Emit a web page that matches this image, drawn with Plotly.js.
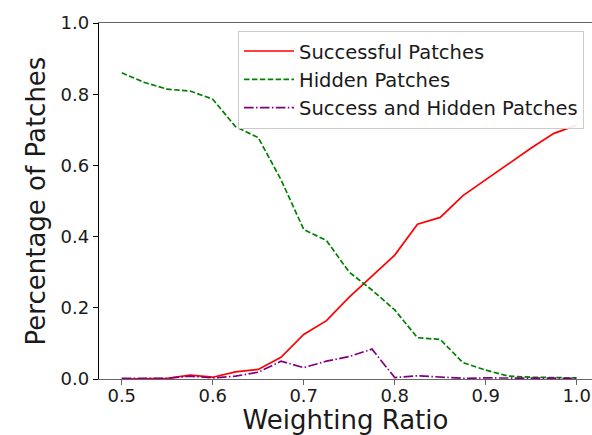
<!DOCTYPE html>
<html>
<head>
<meta charset="utf-8">
<script src="https://cdn.plot.ly/plotly-3.0.1.min.js"></script>
<style>html,body{margin:0;padding:0;background:#fff;}#chart{width:592px;height:435px;}</style>
</head>
<body>
<div id="chart"></div>
<script>
const ratios = [0.5, 0.525, 0.55, 0.575, 0.6, 0.625, 0.65, 0.675, 0.7, 0.725, 0.75, 0.775, 0.8, 0.825, 0.85, 0.875, 0.9, 0.925, 0.95, 0.975, 1.0];
const successful = [0.0, 0.0, 0.002, 0.011, 0.005, 0.02, 0.027, 0.061, 0.125, 0.164, 0.23, 0.289, 0.348, 0.435, 0.454, 0.515, 0.56, 0.605, 0.649, 0.69, 0.713];
const hidden = [0.86, 0.833, 0.814, 0.809, 0.786, 0.709, 0.678, 0.56, 0.42, 0.389, 0.30, 0.25, 0.194, 0.116, 0.111, 0.046, 0.025, 0.008, 0.005, 0.005, 0.003];
const both = [0.002, 0.002, 0.002, 0.008, 0.003, 0.008, 0.019, 0.05, 0.032, 0.05, 0.063, 0.084, 0.004, 0.009, 0.005, 0.002, 0.003, 0.003, 0.002, 0.002, 0.002];
const names = ["Successful Patches", "Hidden Patches", "Success and Hidden Patches"];
const yTicks = [0.0, 0.2, 0.4, 0.6, 0.8, 1.0];
const xTicks = [0.5, 0.6, 0.7, 0.8, 0.9, 1.0];

const font = "DejaVu Sans, sans-serif";
const traces = [
  {x: ratios, y: successful, name: names[0], mode: "lines", line: {color: "#ff0000", width: 1.7}},
  {x: ratios, y: hidden, name: names[1], mode: "lines", line: {color: "#008000", width: 1.7, dash: "5.5px,2.4px"}},
  {x: ratios, y: both, name: names[2], mode: "lines", line: {color: "#800080", width: 1.7, dash: "9.6px,2.4px,1.5px,2.4px"}}
];
const layout = {
  width: 592, height: 435,
  margin: {l: 99, r: 0, t: 23, b: 56, pad: 0},
  paper_bgcolor: "#fff", plot_bgcolor: "#fff",
  font: {family: font, color: "#1a1a1a", size: 18},
  showlegend: true,
  legend: {x: 0.282, y: 0.978, xanchor: "left", yanchor: "top",
    bgcolor: "rgba(255,255,255,0.9)", bordercolor: "#cccccc", borderwidth: 1,
    itemwidth: 50,
    font: {family: font, size: 19.5, color: "#1a1a1a"}, tracegroupgap: 0},
  xaxis: {range: [0.475, 1.0168], tickvals: xTicks, ticktext: xTicks.map(v => v.toFixed(1)),
    showgrid: false, zeroline: false, showline: true, linecolor: "#666", linewidth: 1.2, mirror: true,
    ticks: "outside", ticklen: 5, tickcolor: "#666", tickfont: {size: 18}, ticklabelstandoff: -5,
    title: {text: "Weighting Ratio", font: {size: 26}, standoff: 14}},
  yaxis: {range: [0, 1], tickvals: yTicks, ticktext: yTicks.map(v => v.toFixed(1)),
    showgrid: false, zeroline: false, showline: true, linecolor: "#000", linewidth: 1.2,
    ticks: "outside", ticklen: 5, tickcolor: "#000", tickfont: {size: 18},
    title: {text: "Percentage of Patches", font: {size: 26}, standoff: 7}}
};
Plotly.newPlot("chart", traces, layout, {staticPlot: true, displayModeBar: false});
</script>
</body>
</html>
